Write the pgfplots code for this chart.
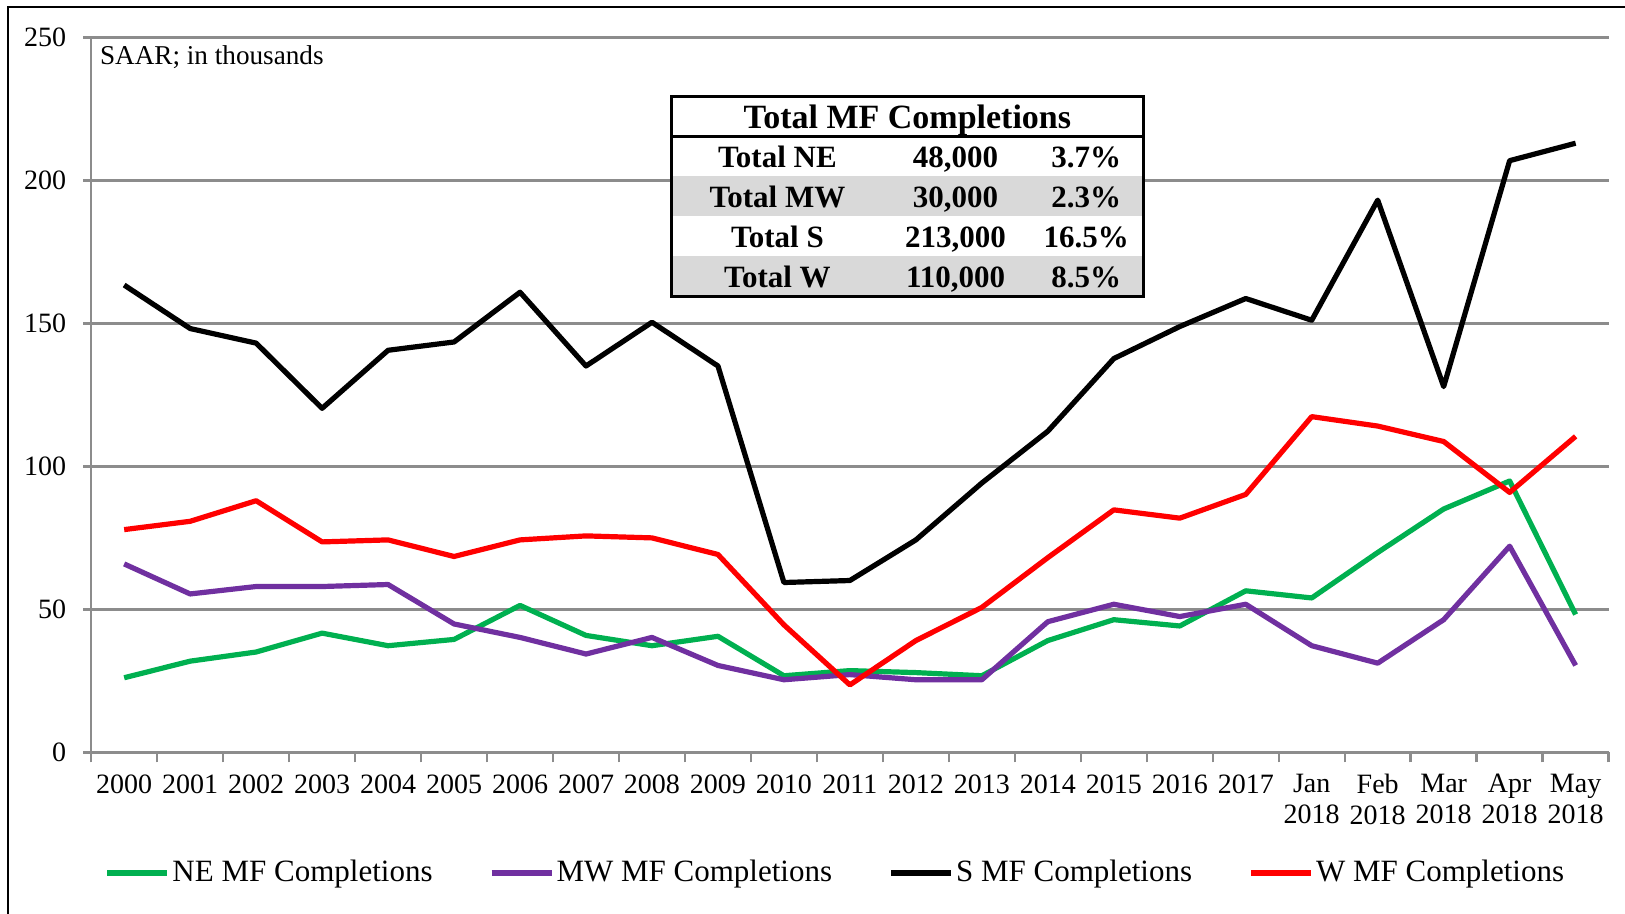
\documentclass[border=0pt]{standalone}
\usepackage{fontspec}
\setmainfont{Liberation Serif}
\usepackage{pgfplots}
\pgfplotsset{compat=1.18}

\definecolor{neGreen}{HTML}{00B050}
\definecolor{mwPurple}{HTML}{7030A0}
\definecolor{wRed}{HTML}{FF0000}
\definecolor{gridGray}{HTML}{8C8C8C}
\definecolor{rowGray}{HTML}{D9D9D9}

\begin{document}
\begin{tikzpicture}
\useasboundingbox (0,0) rectangle (812.5pt,457pt);
% chart frame (only left and top edges fall inside the picture)
\draw[black, line width=1pt] (4.15pt,0) -- (4.15pt,453.4pt) -- (812.5pt,453.4pt);
\begin{axis}[
  at={(45.6pt,80.8pt)}, anchor=south west,
  scale only axis, width=758.7pt, height=357.5pt,
  xmin=-0.5, xmax=22.5, ymin=0, ymax=250,
  axis x line*=bottom, axis y line*=left,
  axis line style={gridGray, line width=1.2pt, -},
  xtick={0,...,22},
  xticklabels={2000,2001,2002,2003,2004,2005,2006,2007,2008,2009,2010,2011,2012,2013,2014,2015,2016,2017,
    {Jan\\2018},{Feb\\2018},{Mar\\2018},{Apr\\2018},{May\\2018}},
  major x tick style={draw=none},
  minor xtick={-0.5,0.5,...,22.5},
  ytick={0,50,...,250},
  ymajorgrids, grid style={gridGray, line width=1.2pt},
  tick style={gridGray, line width=1.2pt},
  major tick length=4pt, minor tick length=5pt,
  tick align=outside,
  xticklabel style={align=center, font=\fontsize{14pt}{15.5pt}\selectfont, yshift=-3.5pt},
  yticklabel style={font=\fontsize{14pt}{16pt}\selectfont, xshift=-5pt},
  /pgf/number format/assume math mode=true,
  legend columns=4,
  legend style={draw=none, fill=none, at={(0.0085,-0.168)}, anchor=west,
    font=\fontsize{15.5pt}{17pt}\selectfont, inner sep=0pt,
    nodes={inner xsep=1pt},
    /tikz/every even column/.append style={column sep=27pt}},
  legend image code/.code={\draw[#1, line width=3pt] (0pt,0pt) -- (30pt,0pt);},
  every axis plot/.append style={line width=2.6pt, line join=round},
]
\addplot[neGreen] coordinates {
  (0,26.1) (1,31.9) (2,35.1) (3,41.7) (4,37.3) (5,39.5) (6,51.4) (7,40.9) (8,37.3) (9,40.6)
  (10,26.8) (11,28.6) (12,27.9) (13,26.8) (14,39.1) (15,46.4) (16,44.2) (17,56.5)
  (18,54.0) (19,69.9) (20,85.1) (21,94.9) (22,48.2)};
\addlegendentry{NE MF Completions}
\addplot[mwPurple] coordinates {
  (0,65.9) (1,55.4) (2,58.0) (3,58.0) (4,58.7) (5,44.9) (6,40.2) (7,34.4) (8,40.2) (9,30.4)
  (10,25.4) (11,27.2) (12,25.4) (13,25.4) (14,45.7) (15,51.8) (16,47.5) (17,51.8)
  (18,37.3) (19,31.2) (20,46.4) (21,72.1) (22,30.4)};
\addlegendentry{MW MF Completions}
\addplot[black] coordinates {
  (0,163.4) (1,148.2) (2,143.1) (3,120.3) (4,140.6) (5,143.5) (6,160.9) (7,135.1) (8,150.4) (9,135.1)
  (10,59.4) (11,60.1) (12,74.3) (13,94.2) (14,112.3) (15,137.7) (16,148.9) (17,158.7)
  (18,151.1) (19,193.1) (20,127.9) (21,206.9) (22,213.0)};
\addlegendentry{S MF Completions}
\addplot[wRed] coordinates {
  (0,77.9) (1,80.8) (2,88.0) (3,73.6) (4,74.3) (5,68.5) (6,74.3) (7,75.7) (8,75.0) (9,69.2)
  (10,44.6) (11,23.6) (12,39.1) (13,50.7) (14,68.1) (15,84.8) (16,81.9) (17,90.2)
  (18,117.4) (19,114.1) (20,108.7) (21,90.9) (22,110.5)};
\addlegendentry{W MF Completions}
\end{axis}

% annotation text
\node[anchor=west, inner sep=0pt, font=\fontsize{13.6pt}{15pt}\selectfont] at (49.8pt,428.5pt) {SAAR; in thousands};

% summary table
\fill[white] (335.8pt,308.8pt) rectangle (571.6pt,408.8pt);
\fill[rowGray] (335.8pt,348.8pt) rectangle (571.6pt,368.8pt);
\fill[rowGray] (335.8pt,308.8pt) rectangle (571.6pt,328.8pt);
\draw[black, line width=1.5pt] (335.8pt,308.8pt) rectangle (571.6pt,408.8pt);
\draw[black, line width=1.5pt] (335.8pt,388.8pt) -- (571.6pt,388.8pt);
\node[anchor=base, inner sep=0pt, font=\fontsize{17pt}{19pt}\selectfont\bfseries] at (453.7pt,392.8pt) {Total MF Completions};
\begin{scope}[every node/.style={anchor=base, inner sep=0pt, font=\fontsize{15.5pt}{17pt}\selectfont\bfseries}]
\node at (388.7pt,373.4pt) {Total NE};  \node at (477.8pt,373.4pt) {48,000};  \node at (543.1pt,373.4pt) {3.7\%};
\node at (388.7pt,353.4pt) {Total MW};  \node at (477.8pt,353.4pt) {30,000};  \node at (543.1pt,353.4pt) {2.3\%};
\node at (388.7pt,333.4pt) {Total S};   \node at (477.8pt,333.4pt) {213,000}; \node at (543.1pt,333.4pt) {16.5\%};
\node at (388.7pt,313.4pt) {Total W};   \node at (477.8pt,313.4pt) {110,000}; \node at (543.1pt,313.4pt) {8.5\%};
\end{scope}
\end{tikzpicture}
\end{document}
